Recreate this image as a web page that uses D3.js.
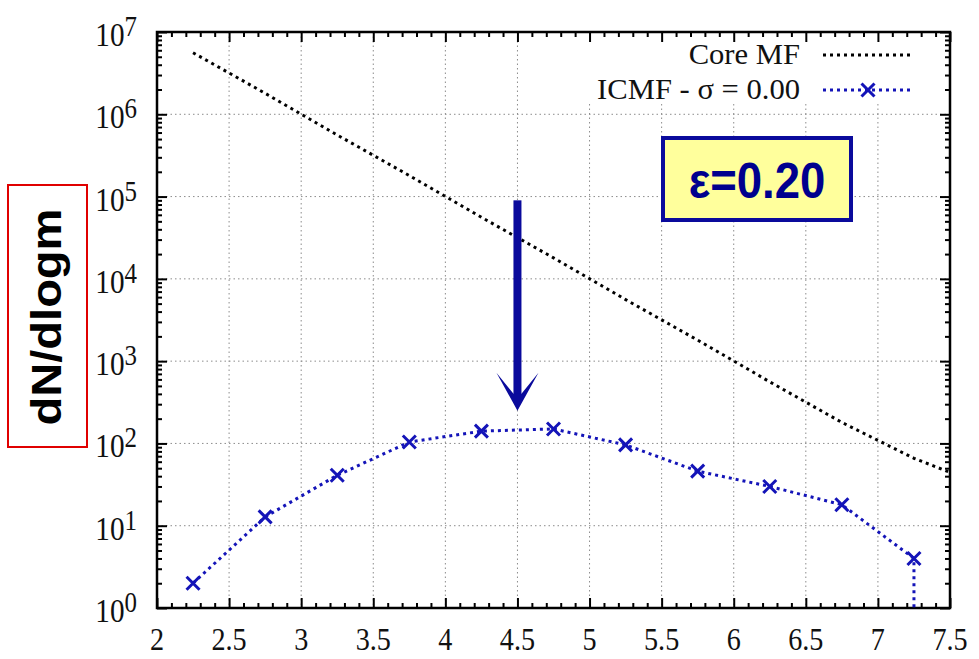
<!DOCTYPE html>
<html><head><meta charset="utf-8">
<script src="https://cdn.jsdelivr.net/npm/d3@7"></script>
<style>body{margin:0;background:#fff}</style>
</head><body><svg id="c" width="979" height="659"></svg>
<script>
// ---- data ----
const xTickLabels = ["2","2.5","3","3.5","4","4.5","5","5.5","6","6.5","7","7.5"];
const yTickExponents = [0,1,2,3,4,5,6,7];
const coreX  = [2.25,2.75,3.25,3.75,4.25,4.75,5.25,5.75,6.25,6.75,7.25,7.75];
const coreMF = [5.6e6,1.8e6,5.6e5,1.8e5,5.6e4,1.8e4,5.6e3,1.8e3,560,180,66,30];
const icmfX  = [2.25,2.75,3.25,3.75,4.25,4.75,5.25,5.75,6.25,6.75,7.25,7.25];
const icmf   = [2,12.8,41,104,141,150,96,46,30,18,4,0];
const legendLabels = ["Core MF","ICMF - σ = 0.00"];
const annotationText = "ε=0.20";
const yLabel = "dN/dlogm";
const arrowX = 4.5, arrowFrom = 9e4, arrowTo = 250;

// ---- setup ----
const svg = d3.select("#c");
const x = d3.scaleLinear().domain([2,7.5]).range([157,950]);
const y = d3.scaleLog().domain([1,1e7]).range([608,32]);
const [xL,xR] = x.range();
const [yB,yT] = y.range();
const BLUE = "#1414b8", NAVY = "#0a0a9c";
const serif = "'Liberation Serif','Times New Roman',serif";
const sans = "'Liberation Sans',Arial,sans-serif";

svg.append("defs").append("clipPath").attr("id","plot")
  .append("rect").attr("x",xL).attr("y",yT).attr("width",xR-xL).attr("height",yB-yT);

// ---- grid ----
const xMajor = xTickLabels.map(Number);
const yMajor = yTickExponents.map(e=>Math.pow(10,e));
const grid = svg.append("g").attr("stroke","#8c8c8c").attr("stroke-width",1).attr("stroke-dasharray","1.5,3");
grid.selectAll(".gx").data(xMajor.filter(d=>d>2&&d<7.5)).join("line")
  .attr("x1",d=>x(d)).attr("x2",d=>x(d)).attr("y1",yT).attr("y2",yB);
grid.selectAll(".gy").data(yMajor.filter(d=>d>1&&d<1e7)).join("line")
  .attr("y1",d=>y(d)).attr("y2",d=>y(d)).attr("x1",xL).attr("x2",xR);

// opaque key background
svg.append("rect").attr("x",572).attr("y",yT+1).attr("width",362).attr("height",70).attr("fill","#fff");

// ---- ticks ----
const minorX = d3.range(21,75).map(i=>i/10).filter(d=>Math.abs(d*2-Math.round(d*2))>1e-6);
const minorY = [];
for (let e=0;e<7;e++) for (let k=2;k<10;k++) minorY.push(k*Math.pow(10,e));
function ticks(axisFn, scale, tr, values, size){
  svg.append("g").attr("transform",tr)
    .call(axisFn(scale).tickValues(values).tickSizeInner(size).tickSizeOuter(0).tickFormat(""))
    .call(g=>g.select(".domain").remove())
    .selectAll("line").attr("stroke","#000").attr("stroke-width",2);
}
ticks(d3.axisBottom,x,`translate(0,${yB})`,xMajor,-10);
ticks(d3.axisBottom,x,`translate(0,${yB})`,minorX,-5);
ticks(d3.axisTop,x,`translate(0,${yT})`,xMajor,-10);
ticks(d3.axisTop,x,`translate(0,${yT})`,minorX,-5);
ticks(d3.axisLeft,y,`translate(${xL},0)`,yMajor,-10);
ticks(d3.axisLeft,y,`translate(${xL},0)`,minorY,-5);
ticks(d3.axisRight,y,`translate(${xR},0)`,yMajor,-10);
ticks(d3.axisRight,y,`translate(${xR},0)`,minorY,-5);

// frame
svg.append("rect").attr("x",xL).attr("y",yT).attr("width",xR-xL).attr("height",yB-yT)
  .attr("fill","none").attr("stroke","#000").attr("stroke-width",2.5);

// ---- tick labels ----
svg.append("g").selectAll("g").data(xTickLabels).join("g")
  .attr("transform",d=>`translate(${x(+d)},650) scale(0.88,1)`)
  .append("text").attr("text-anchor","middle").attr("font-family",serif).attr("font-size",32)
  .attr("fill","#111").text(d=>d);

const yl = svg.append("g").selectAll("g").data(yTickExponents).join("g")
  .attr("transform",d=>`translate(137,${y(Math.pow(10,d))+14}) scale(0.86,1)`)
  .append("text").attr("text-anchor","end").attr("font-family",serif).attr("font-size",34).attr("fill","#111");
yl.append("tspan").text("10");
yl.append("tspan").attr("font-size",29).attr("dy",-10).text(d=>d);

// ---- series ----
const line = d3.line().x(d=>x(d[0])).y(d=>d[1]>0?y(d[1]):yB);
const plot = svg.append("g").attr("clip-path","url(#plot)");
plot.append("path").datum(d3.zip(coreX,coreMF)).attr("d",line)
  .attr("fill","none").attr("stroke","#000").attr("stroke-width",3).attr("stroke-dasharray","3,4");
const icData = d3.zip(icmfX,icmf);
plot.append("path").datum(icData).attr("d",line)
  .attr("fill","none").attr("stroke",BLUE).attr("stroke-width",3).attr("stroke-dasharray","3,4");
const xMark = "M-6.5,-6.5L6.5,6.5M-6.5,6.5L6.5,-6.5";
svg.append("g").selectAll("path").data(icData.filter(d=>d[1]>0)).join("path")
  .attr("transform",d=>`translate(${x(d[0])},${y(d[1])})`).attr("d",xMark)
  .attr("stroke",BLUE).attr("stroke-width",3).attr("fill","none");

// ---- legend ----
const lg = svg.append("g");
[[legendLabels[0],64,"#000",false],[legendLabels[1],99,BLUE,true]].forEach(([t,by,c,mk])=>{
  lg.append("g").attr("transform",`translate(800,${by}) scale(1.02,1)`)
    .append("text").attr("text-anchor","end").attr("font-family",serif).attr("font-size",30).attr("fill","#111").text(t);
  lg.append("line").attr("x1",823).attr("x2",912).attr("y1",by-9).attr("y2",by-9)
    .attr("stroke",c).attr("stroke-width",3).attr("stroke-dasharray","3,4");
  if (mk) lg.append("path").attr("transform",`translate(868,${by-9})`).attr("d",xMark)
    .attr("stroke",BLUE).attr("stroke-width",3).attr("fill","none");
});

// ---- annotation box ----
svg.append("rect").attr("x",663).attr("y",138).attr("width",188).attr("height",82)
  .attr("fill","#ffff9c").attr("stroke",NAVY).attr("stroke-width",4);
svg.append("g").attr("transform","translate(757,198) scale(0.91,1)")
  .append("text").attr("text-anchor","middle").attr("font-family",sans).attr("font-weight","bold")
  .attr("font-size",50).attr("fill","#00008e").text(annotationText);

// ---- arrow ----
const ax = x(arrowX), ay0 = y(arrowFrom), ay1 = y(arrowTo);
svg.append("rect").attr("x",ax-4).attr("y",ay0).attr("width",8).attr("height",ay1-ay0-16).attr("fill",NAVY);
svg.append("path").attr("fill",NAVY)
  .attr("d",`M${ax-4},${ay1-17}L${ax-21},${ay1-38}L${ax},${ay1}L${ax+21},${ay1-38}L${ax+4},${ay1-17}Z`);

// ---- y label ----
svg.append("rect").attr("x",8).attr("y",185).attr("width",79).attr("height",262)
  .attr("fill","none").attr("stroke","#e00000").attr("stroke-width",2);
svg.append("g").attr("transform","translate(61,317) rotate(-90) scale(1.12,1)")
  .append("text").attr("text-anchor","middle").attr("font-family",sans).attr("font-weight","bold")
  .attr("font-size",42).attr("fill","#000").text(yLabel);
</script></body></html>
